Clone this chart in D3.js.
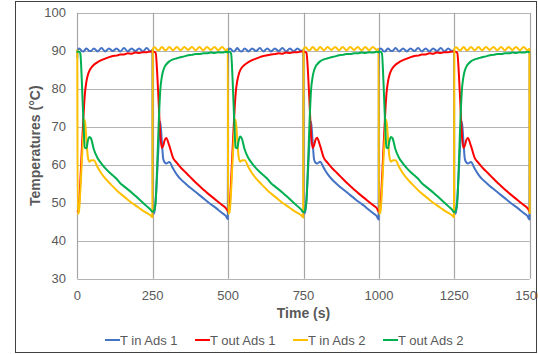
<!DOCTYPE html>
<html>
<head>
<meta charset="utf-8">
<script src="https://cdn.jsdelivr.net/npm/d3@7"></script>
<style>
  body { margin: 0; background: #fff; }
  svg { display: block; font-family: "Liberation Sans", Arial, sans-serif; }
</style>
</head>
<body>
<div id="chart"></div>
<script>
// time axis (s)
var time = [
  0, 1, 5, 10, 15, 20, 25, 30, 35, 40, 45, 55, 67.5, 80, 92.5, 105, 117.5, 130, 142.5, 155, 167.5, 180, 192.5, 205, 217.5, 230, 242.5, 249,
  250, 255, 260, 265, 270, 275, 280, 285, 290, 295, 305, 317.5, 330, 342.5, 355, 367.5, 380, 392.5, 405, 417.5, 430, 442.5, 455, 467.5, 480, 492.5, 499,
  500, 505, 510, 515, 520, 525, 530, 535, 540, 545, 555, 567.5, 580, 592.5, 605, 617.5, 630, 642.5, 655, 667.5, 680, 692.5, 705, 717.5, 730, 742.5, 749,
  750, 755, 760, 765, 770, 775, 780, 785, 790, 795, 805, 817.5, 830, 842.5, 855, 867.5, 880, 892.5, 905, 917.5, 930, 942.5, 955, 967.5, 980, 992.5, 999,
  1000, 1005, 1010, 1015, 1020, 1025, 1030, 1035, 1040, 1045, 1055, 1067.5, 1080, 1092.5, 1105, 1117.5, 1130, 1142.5, 1155, 1167.5, 1180, 1192.5, 1205, 1217.5, 1230, 1242.5, 1249,
  1250, 1255, 1260, 1265, 1270, 1275, 1280, 1285, 1290, 1295, 1305, 1317.5, 1330, 1342.5, 1355, 1367.5, 1380, 1392.5, 1405, 1417.5, 1430, 1442.5, 1455, 1467.5, 1480, 1492.5, 1499,
  1500
];

var tInAds1 = [
  88.0,
  90.1, 90.6, 90.4, 89.9, 89.8, 90.2, 90.6, 90.3, 89.9, 89.9, 90.6, 89.8, 90.7, 89.8, 90.6, 89.9, 90.6, 89.8, 90.7, 89.8, 90.6, 89.9, 90.6, 89.8, 90.7, 89.8, 90.2,
  47.0, 47.3, 51.0, 58.0, 66.0, 71.3, 66.5, 61.5, 60.6, 60.3, 60.7, 59.0, 57.4, 56.2, 55.3, 54.4, 53.6, 52.8, 52.0, 51.2, 50.4, 49.6, 48.9, 48.1, 47.3, 46.5, 45.7,
  90.0, 90.6, 90.4, 89.9, 89.8, 90.2, 90.7, 90.3, 89.9, 89.8, 90.6, 89.8, 90.6, 89.9, 90.7, 89.8, 90.6, 89.8, 90.6, 89.9, 90.7, 89.8, 90.6, 89.8, 90.6, 89.9, 90.2,
  47.0, 47.4, 51.2, 58.3, 66.2, 71.4, 66.4, 61.4, 60.5, 60.3, 60.8, 59.1, 57.5, 56.3, 55.3, 54.4, 53.6, 52.8, 52.0, 51.2, 50.4, 49.7, 48.9, 48.1, 47.3, 46.5, 45.6,
  90.1, 90.6, 90.4, 89.9, 89.8, 90.2, 90.6, 90.3, 89.9, 89.9, 90.7, 89.8, 90.6, 89.8, 90.6, 89.9, 90.7, 89.8, 90.6, 89.8, 90.6, 89.9, 90.7, 89.8, 90.6, 89.8, 90.2,
  47.0, 47.3, 51.1, 58.1, 66.1, 71.4, 66.5, 61.5, 60.6, 60.3, 60.7, 59.0, 57.4, 56.2, 55.3, 54.4, 53.6, 52.8, 52.0, 51.2, 50.4, 49.6, 48.9, 48.1, 47.3, 46.5, 45.6,
  90.0
];

var tOutAds1 = [
  47.5,
  47.6, 49.0, 55.5, 64.0, 72.0, 78.5, 81.8, 83.6, 84.7, 85.4, 86.3, 87.0, 87.5, 87.9, 88.3, 88.6, 88.7, 89.0, 89.0, 89.3, 89.2, 89.5, 89.4, 89.6, 89.6, 89.8, 89.7,
  89.7, 89.7, 89.4, 84.0, 76.0, 68.0, 64.4, 65.0, 66.5, 67.0, 65.0, 61.8, 60.5, 59.3, 58.3, 57.3, 56.3, 55.3, 54.4, 53.5, 52.6, 51.8, 51.0, 50.2, 49.4, 48.6, 47.8,
  47.7, 49.0, 55.8, 64.3, 72.3, 78.7, 81.9, 83.7, 84.8, 85.5, 86.3, 87.0, 87.5, 87.9, 88.3, 88.6, 88.8, 89.0, 89.1, 89.3, 89.2, 89.5, 89.4, 89.6, 89.6, 89.8, 89.7,
  89.7, 89.7, 89.4, 84.2, 76.2, 68.1, 64.4, 65.1, 66.6, 67.1, 65.0, 61.8, 60.5, 59.3, 58.3, 57.3, 56.3, 55.3, 54.4, 53.5, 52.6, 51.8, 51.0, 50.2, 49.4, 48.6, 47.7,
  47.6, 49.0, 55.6, 64.1, 72.1, 78.6, 81.8, 83.6, 84.7, 85.4, 86.3, 87.0, 87.5, 87.9, 88.3, 88.6, 88.7, 89.0, 89.0, 89.3, 89.2, 89.5, 89.4, 89.6, 89.6, 89.8, 89.7,
  89.7, 89.7, 89.4, 84.1, 76.1, 68.0, 64.4, 65.0, 66.5, 67.0, 65.0, 61.8, 60.5, 59.3, 58.3, 57.3, 56.3, 55.3, 54.4, 53.5, 52.6, 51.8, 51.0, 50.2, 49.4, 48.6, 47.8,
  47.7
];

var tInAds2 = [
  90.3,
  47.0, 47.5, 53.0, 61.0, 68.0, 71.8, 67.0, 62.0, 60.8, 61.1, 61.2, 59.3, 57.7, 56.4, 55.3, 54.3, 53.3, 52.4, 51.6, 50.8, 50.0, 49.3, 48.6, 47.9, 47.3, 46.7, 46.2,
  90.4, 90.9, 90.7, 90.2, 90.1, 90.5, 91.0, 90.7, 90.2, 90.2, 91.0, 90.1, 91.0, 90.1, 91.0, 90.2, 91.0, 90.1, 91.0, 90.1, 91.0, 90.2, 91.0, 90.1, 91.0, 90.1, 90.5,
  47.0, 47.6, 53.2, 61.2, 68.1, 71.9, 67.1, 62.0, 60.8, 61.1, 61.2, 59.3, 57.7, 56.4, 55.3, 54.3, 53.3, 52.4, 51.6, 50.8, 50.0, 49.3, 48.6, 47.9, 47.3, 46.7, 46.1,
  90.4, 90.9, 90.7, 90.2, 90.1, 90.5, 91.0, 90.7, 90.2, 90.1, 91.0, 90.1, 91.0, 90.2, 91.0, 90.1, 91.0, 90.1, 91.0, 90.2, 91.0, 90.1, 91.0, 90.1, 91.0, 90.2, 90.5,
  47.0, 47.5, 53.1, 61.1, 68.0, 71.8, 67.0, 62.0, 60.8, 61.1, 61.2, 59.3, 57.7, 56.4, 55.3, 54.3, 53.3, 52.4, 51.6, 50.8, 50.0, 49.3, 48.6, 47.9, 47.3, 46.7, 46.2,
  90.4, 90.9, 90.7, 90.2, 90.1, 90.5, 91.0, 90.7, 90.2, 90.2, 91.0, 90.1, 91.0, 90.1, 91.0, 90.2, 91.0, 90.1, 91.0, 90.1, 91.0, 90.2, 91.0, 90.1, 91.0, 90.1, 90.5,
  47.0
];

var tOutAds2 = [
  89.5,
  89.8, 89.8, 89.3, 82.0, 72.0, 64.5, 64.3, 66.3, 67.3, 67.0, 64.0, 61.7, 60.3, 59.1, 58.1, 57.2, 56.3, 55.1, 54.3, 53.5, 52.7, 51.8, 50.9, 50.0, 49.1, 48.2, 47.6,
  47.6, 48.0, 50.5, 60.0, 71.0, 79.5, 83.0, 84.8, 85.8, 86.4, 87.2, 87.7, 88.0, 88.3, 88.5, 88.8, 88.9, 89.1, 89.1, 89.3, 89.3, 89.5, 89.4, 89.6, 89.5, 89.7, 89.6,
  89.7, 89.7, 89.2, 82.2, 72.2, 64.6, 64.3, 66.3, 67.4, 67.0, 64.0, 61.7, 60.3, 59.1, 58.1, 57.2, 56.3, 55.1, 54.3, 53.5, 52.7, 51.8, 50.9, 50.0, 49.1, 48.2, 47.5,
  47.5, 48.0, 50.6, 60.2, 71.2, 79.6, 83.0, 84.8, 85.8, 86.4, 87.2, 87.7, 88.0, 88.3, 88.5, 88.8, 88.9, 89.1, 89.1, 89.3, 89.3, 89.5, 89.4, 89.6, 89.5, 89.7, 89.6,
  89.7, 89.7, 89.3, 82.1, 72.1, 64.5, 64.3, 66.3, 67.3, 67.0, 64.0, 61.7, 60.3, 59.1, 58.1, 57.2, 56.3, 55.1, 54.3, 53.5, 52.7, 51.8, 50.9, 50.0, 49.1, 48.2, 47.5,
  47.5, 48.0, 50.5, 60.1, 71.1, 79.5, 83.0, 84.8, 85.8, 86.4, 87.2, 87.7, 88.0, 88.3, 88.5, 88.8, 88.9, 89.1, 89.1, 89.3, 89.3, 89.5, 89.4, 89.6, 89.5, 89.7, 89.6,
  89.6
];

var seriesNames = ["T in Ads 1", "T out Ads 1", "T in Ads 2", "T out Ads 2"];
var seriesColors = ["#4472c4", "#ff0000", "#ffc000", "#00b050"];
var seriesValues = [tInAds1, tOutAds1, tInAds2, tOutAds2];
var xTicks = [0, 250, 500, 750, 1000, 1250, 1500];
var yTicks = [30, 40, 50, 60, 70, 80, 90, 100];

var width = 538, height = 354;
var margin = { top: 12.7, right: 8.3, bottom: 75.3, left: 77.3 };

var svg = d3.select("#chart")
  .append("svg")
  .attr("width", width)
  .attr("height", height);

svg.append("rect")
   .attr("x", 15.5)
   .attr("y", 1.5)
   .attr("width", 521)
   .attr("height", 351)
   .attr("fill", "#fff")
   .attr("stroke", "#404040")
   .attr("stroke-width", 1);

var x = d3.scaleLinear()
  .domain([0, 1500])
  .range([margin.left, width - margin.right]);

var y = d3.scaleLinear()
  .domain([30, 100])
  .range([height - margin.bottom, margin.top]);

// grid
svg.append("g")
  .selectAll("line")
  .data(yTicks)
  .enter()
  .append("line")
    .attr("x1", x(0))
    .attr("x2", x(1500))
    .attr("y1", function(d) { return Math.round(y(d)) + 0.5; })
    .attr("y2", function(d) { return Math.round(y(d)) + 0.5; })
    .attr("stroke", "#b4b4b4")
    .attr("stroke-width", 1.2);

svg.append("g")
  .selectAll("line")
  .data(xTicks)
  .enter()
  .append("line")
    .attr("x1", function(d) { return Math.round(x(d)) + 0.5; })
    .attr("x2", function(d) { return Math.round(x(d)) + 0.5; })
    .attr("y1", y(100))
    .attr("y2", y(30))
    .attr("stroke", "#a6a6a6")
    .attr("stroke-width", 1.2);

// tick labels
svg.append("g")
  .selectAll("text")
  .data(yTicks)
  .enter()
  .append("text")
    .attr("x", 66)
    .attr("y", function(d) { return y(d); })
    .attr("dy", "0.35em")
    .attr("text-anchor", "end")
    .style("font-size", "13px")
    .style("fill", "#595959")
    .text(function(d) { return d; });

svg.append("g")
  .selectAll("text")
  .data(xTicks)
  .enter()
  .append("text")
    .attr("x", function(d) { return x(d); })
    .attr("y", 295)
    .attr("dy", "0.35em")
    .attr("text-anchor", "middle")
    .style("font-size", "13px")
    .style("fill", "#595959")
    .text(function(d) { return d; });

// axis titles
svg.append("text")
   .attr("x", (x(0) + x(1500)) / 2)
   .attr("y", 313.5)
   .attr("dy", "0.35em")
   .attr("text-anchor", "middle")
   .style("font-size", "14px")
   .style("font-weight", "bold")
   .style("fill", "#595959")
   .text("Time (s)");

svg.append("text")
   .attr("transform", "translate(35," + ((y(30) + y(100)) / 2) + ") rotate(-90)")
   .attr("dy", "0.35em")
   .attr("text-anchor", "middle")
   .style("font-size", "14px")
   .style("font-weight", "bold")
   .style("fill", "#595959")
   .text("Temperatures (°C)");

// series
var line = d3.line()
  .x(function(d) { return x(d[0]); })
  .y(function(d) { return y(d[1]); })
  .curve(d3.curveMonotoneX);

seriesValues.forEach(function(vals, i) {
  var pts = time.map(function(t, j) { return [t, vals[j]]; });
  svg.append("path")
     .datum(pts)
     .attr("fill", "none")
     .attr("stroke", seriesColors[i])
     .attr("stroke-width", 2)
     .attr("stroke-linejoin", "round")
     .attr("d", line);
});

// legend
var legendX = [105, 195, 293, 383];
var legend = svg.append("g");
seriesNames.forEach(function(name, i) {
  legend.append("line")
    .attr("x1", legendX[i])
    .attr("x2", legendX[i] + 15)
    .attr("y1", 340)
    .attr("y2", 340)
    .attr("stroke", seriesColors[i])
    .attr("stroke-width", 2);
  legend.append("text")
    .attr("x", legendX[i] + 15)
    .attr("y", 340)
    .attr("dy", "0.35em")
    .style("font-size", "13px")
    .style("fill", "#595959")
    .text(name);
});
</script>
</body>
</html>
